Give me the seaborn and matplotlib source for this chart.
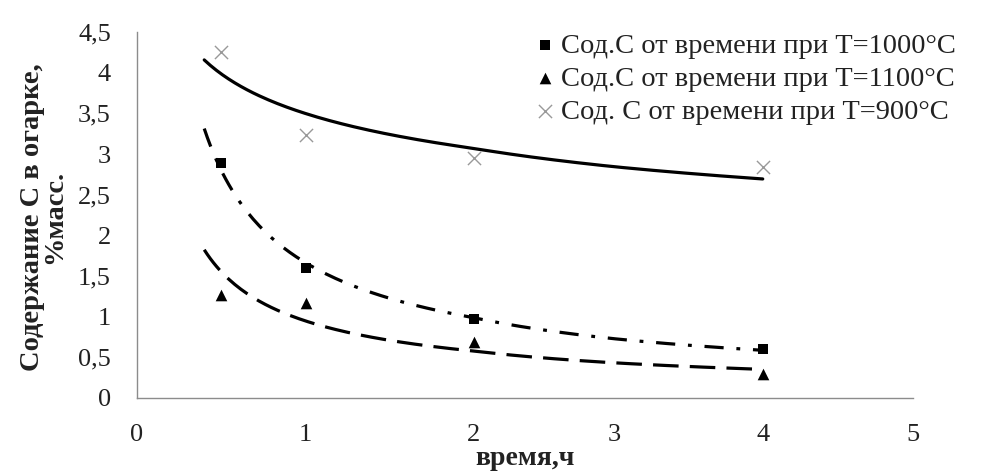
import numpy as np
import pandas as pd
import seaborn as sns
import matplotlib.pyplot as plt
from matplotlib.ticker import FuncFormatter

sns.set_theme(style="white")
plt.rcParams['font.family'] = ['Liberation Serif', 'DejaVu Serif']

# data
time_h = [0.5, 1, 2, 4]
c_1000 = [2.89, 1.60, 0.97, 0.60]
c_1100 = [1.27, 1.17, 0.69, 0.29]
c_900 = [4.26, 3.23, 2.95, 2.84]

labels = ["Сод.С от времени при Т=1000°С",
          "Сод.С от времени при Т=1100°С",
          "Сод. С от времени при Т=900°С"]

# the original x axis is not evenly spaced: tick value -> relative position
x_ticks = [0, 1, 2, 3, 4, 5]
x_tick_pos = [0, 169, 337, 478, 626, 776]


def fwd(v):
    return np.interp(v, x_ticks, x_tick_pos)


def inv(p):
    return np.interp(p, x_tick_pos, x_ticks)


def power_fit(x, y):
    # excel style power trendline y = a*x^b
    b, lna = np.polyfit(np.log(x), np.log(y), 1)
    xs = np.linspace(0.4, 4, 200)
    return pd.DataFrame({"x": xs, "y": np.exp(lna) * xs ** b})


fig = plt.figure(figsize=(9.9, 4.72), dpi=100)
ax = fig.add_axes([0.138, 0.157, 0.784, 0.775])
ax.set_xscale("function", functions=(fwd, inv))

series = [
    (c_1000, labels[0], "s", "black", 55, (0, (6, 4, 1.2, 4))),
    (c_1100, labels[1], "^", "black", 70, (0, (8, 3.5))),
    (c_900, labels[2], "x", "#999999", 90, "-"),
]

for vals, lab, mk, col, sz, ls in series:
    fit = power_fit(time_h, vals)
    sns.lineplot(data=fit, x="x", y="y", ax=ax, color="black", lw=2.3,
                 linestyle=ls, legend=False)

for vals, lab, mk, col, sz, ls in series:
    df = pd.DataFrame({"x": time_h, "y": vals})
    sns.scatterplot(data=df, x="x", y="y", ax=ax, marker=mk, color=col,
                    s=sz, linewidth=1.0 if mk == "x" else 0,
                    edgecolor=col, label=lab, zorder=3)

ax.set_xlim(0, 5)
ax.set_ylim(0, 4.5)
ax.set_xticks(x_ticks)
ax.set_yticks(np.arange(0, 4.51, 0.5))
ax.yaxis.set_major_formatter(FuncFormatter(
    lambda v, p: ("%g" % v).replace(".", ",")))

for s in ["top", "right"]:
    ax.spines[s].set_visible(False)
for s in ["left", "bottom"]:
    ax.spines[s].set_color("#8c8c8c")
    ax.spines[s].set_linewidth(1.0)

ax.tick_params(axis="both", which="major", direction="out", length=5,
               width=1, color="#8c8c8c", labelsize=19, labelcolor="#222222",
               pad=13.5)

ax.set_xlabel("время,ч", fontsize=20, fontweight="bold", color="#222222")
ax.set_ylabel("Содержание С в огарке,\n%масс.", fontsize=20.5,
              fontweight="bold", color="#222222", linespacing=0.85)
ax.xaxis.set_label_coords(0.5, -0.165)
ax.xaxis.label.set_verticalalignment("center")
ax.yaxis.set_label_coords(-0.12, 0.495)
ax.yaxis.label.set_verticalalignment("center")

leg = ax.legend(loc="upper right", bbox_to_anchor=(1.055, 0.998), frameon=False,
                fontsize=20.5, handletextpad=0.1, handlelength=0.9,
                labelspacing=0.25, borderaxespad=0, borderpad=0)
for t in leg.get_texts():
    t.set_color("#222222")

fig.savefig("out.png", dpi=100)
